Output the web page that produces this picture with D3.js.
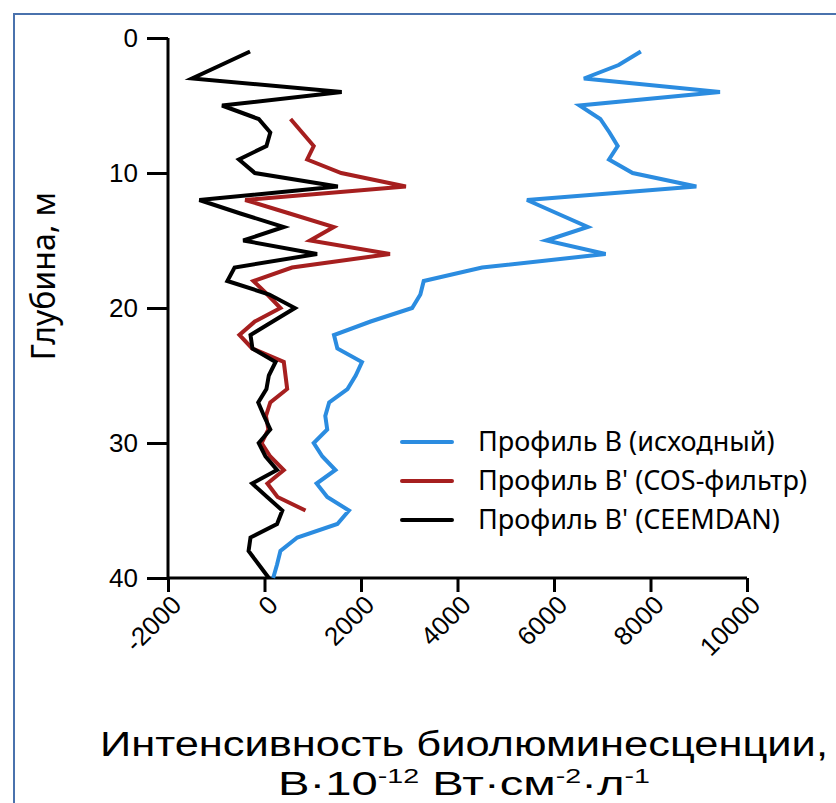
<!DOCTYPE html>
<html lang="ru">
<head>
<meta charset="UTF-8">
<title>Профиль B</title>
<script src="https://d3js.org/d3.v7.min.js"></script>
<style>
  html, body { margin: 0; background: #fff; }
  svg { display: block; font-family: 'Noto Sans', sans-serif; }
  .axis path, .axis line { stroke: #000; stroke-width: 3px; }
  .axis text { font-size: 26px; fill: #000; }
  .title { font-family: 'Liberation Sans', sans-serif; }
</style>
</head>
<body>
<svg width="836" height="803"></svg>
<script>
// depth, m
const depths = d3.range(1, 41);
const depthsCos = d3.range(6, 36);

// Профиль B (исходный), depth 1..40
const blueValues = [7800, 7340, 6620, 9440, 6530, 6960, 7150, 7320, 7140, 7630,
  8950, 5440, 6070, 6700, 5840, 7070, 4510, 3300, 3230, 3060,
  2200, 1440, 1510, 2020, 1890, 1720, 1340, 1260, 1300, 1020,
  1200, 1470, 1080, 1300, 1750, 1510, 680, 330, 260, 180];

// Профиль B' (COS-фильтр), depth 6..35
const redValues = [540, 780, 1020, 885, 1590, 2930, -400, 520, 1436, 945,
  2600, 570, -230, 60, 330, -200, -520, -255, 400, 435,
  470, 120, 30, 80, -60, 120, 400, 60, 270, 850];

// Профиль B' (CEEMDAN), depth 1..40
const blackValues = [-300, -900, -1500, 1600, -880, -120, 120, 40, -530, -200,
  1520, -1350, -500, 400, -440, 1090, -620, -770, 100, 630,
  170, -290, -250, 230, 90, 40, -130, -10, 120, -120,
  20, 260, -255, 55, 370, 260, -290, -330, -120, 90];

const seriesNames = ["Профиль B (исходный)", "Профиль B' (COS-фильтр)", "Профиль B' (CEEMDAN)"];
const seriesColors = ["#2b8ce0", "#a61f1f", "#000000"];

const xMajorTicks = [-2000, 0, 2000, 4000, 6000, 8000, 10000];
const xMinorTicks = [-1000, 1000, 3000, 5000, 7000, 9000];
const yMajorTicks = [0, 10, 20, 30, 40];
const yMinorTicks = [5, 15, 25, 35];

const svg = d3.select("svg");

// frame around the figure
svg.append("rect")
  .attr("x", 14).attr("y", 14)
  .attr("width", 860).attr("height", 840)
  .attr("fill", "none")
  .attr("stroke", "#4a72ad")
  .attr("stroke-width", 2);

const x = d3.scaleLinear().domain([-2000, 10000]).range([168, 747]);
const y = d3.scaleLinear().domain([0, 40]).range([38, 578]);

// axes
const gx = svg.append("g").attr("class", "axis").attr("transform", `translate(0,${y(40)})`);
gx.call(d3.axisBottom(x).tickValues(xMinorTicks).tickSize(10).tickFormat(""));
gx.call(d3.axisBottom(x).tickValues(xMajorTicks).tickSize(14).tickSizeOuter(0).tickFormat(d => String(d)));
gx.select(".domain").attr("d", `M${x(-2000)},0H${x(10000)}`);
gx.selectAll(".tick text")
  .attr("text-anchor", "end")
  .attr("dy", "0.35em")
  .attr("transform", "translate(-4,10) rotate(-45)");

const gy = svg.append("g").attr("class", "axis").attr("transform", `translate(${x(-2000)},0)`);
gy.call(d3.axisLeft(y).tickValues(yMinorTicks).tickSize(11).tickFormat(""));
gy.call(d3.axisLeft(y).tickValues(yMajorTicks).tickSize(21).tickSizeOuter(0).tickPadding(9));
gy.select(".domain").attr("d", `M0,${y(0)}V${y(40)}`);
gy.selectAll(".tick text").attr("font-size", 28);

// series lines
const line = d3.line().x(d => x(d[1])).y(d => y(d[0]));
const series = [
  d3.zip(depths, blueValues),
  d3.zip(depthsCos, redValues),
  d3.zip(depths, blackValues)
];
series.forEach((s, i) => {
  svg.append("path")
    .datum(s)
    .attr("d", line)
    .attr("fill", "none")
    .attr("stroke", seriesColors[i])
    .attr("stroke-width", 4);
});

// legend
const legend = svg.append("g").attr("transform", "translate(402,442)");
seriesNames.forEach((name, i) => {
  const row = legend.append("g").attr("transform", `translate(0,${i * 39})`);
  row.append("line")
    .attr("x1", 0).attr("x2", 50)
    .attr("stroke", seriesColors[i])
    .attr("stroke-width", 4)
    .attr("stroke-linecap", "round");
  row.append("text")
    .attr("x", 76).attr("dy", "0.35em")
    .attr("font-size", 27)
    .text(name);
});

// axis titles
svg.append("text")
  .attr("transform", "translate(55,276) rotate(-90)")
  .attr("text-anchor", "middle")
  .attr("font-size", 32)
  .text("Глубина, м");

// stretch a text group horizontally to the width seen in the original
function stretchTo(g, cx, by, width) {
  const w = g.select("text").node().getBBox().width;
  g.attr("transform", `translate(${cx},${by}) scale(${width / w},1)`);
}

const titleG = svg.append("g");
titleG.append("text")
  .attr("class", "title")
  .attr("text-anchor", "middle")
  .attr("font-size", 35)
  .text("Интенсивность биолюминесценции,");
stretchTo(titleG, 464, 756, 728);

const unitG = svg.append("g");
const unit = unitG.append("text")
  .attr("class", "title")
  .attr("text-anchor", "middle")
  .attr("font-size", 33);
unit.append("tspan").text("B·10");
unit.append("tspan").attr("font-size", 20).attr("dy", -12).text("-12");
unit.append("tspan").attr("dy", 12).text(" Вт·см");
unit.append("tspan").attr("font-size", 20).attr("dy", -12).text("-2");
unit.append("tspan").attr("dy", 12).text("·л");
unit.append("tspan").attr("font-size", 20).attr("dy", -12).text("-1");
stretchTo(unitG, 464, 795, 372);
</script>
</body>
</html>
